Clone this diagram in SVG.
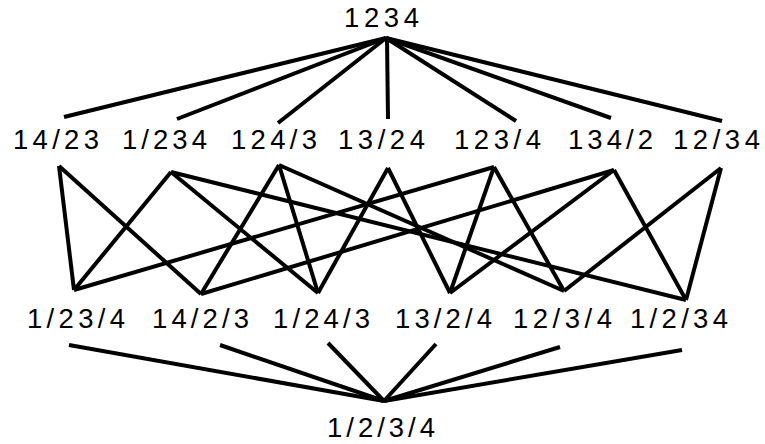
<svg xmlns="http://www.w3.org/2000/svg" width="765" height="444" viewBox="0 0 765 444">
  <style>
    .lbl { font-family: "Liberation Sans", Arial, sans-serif; font-size: 27.5px; fill: #000; }
    .edge { stroke: #000; stroke-width: 4; stroke-linecap: butt; fill: none; }
  </style>
  <rect width="765" height="444" fill="#fff"/>

  <!-- connectors: covering relations of the partition lattice -->
  <g id="connectors" class="edge">
    <!-- 1234 to two-block partitions -->
    <line x1="386" y1="38" x2="64" y2="117"/>
    <line x1="386" y1="38" x2="177" y2="119"/>
    <line x1="386" y1="38" x2="278" y2="123"/>
    <line x1="387" y1="38" x2="388" y2="119"/>
    <line x1="386" y1="38" x2="516" y2="121"/>
    <line x1="386" y1="38" x2="611" y2="118"/>
    <line x1="386" y1="38" x2="722" y2="121"/>
    <!-- two-block to three-block partitions -->
    <line x1="59" y1="166" x2="74" y2="290"/>
    <line x1="59" y1="166" x2="201" y2="294"/>
    <line x1="171" y1="172" x2="74" y2="290"/>
    <line x1="171" y1="172" x2="318" y2="293"/>
    <line x1="171" y1="172" x2="686" y2="300"/>
    <line x1="279" y1="165" x2="201" y2="294"/>
    <line x1="279" y1="165" x2="318" y2="293"/>
    <line x1="279" y1="165" x2="564" y2="291"/>
    <line x1="388" y1="168" x2="318" y2="293"/>
    <line x1="388" y1="168" x2="450" y2="293"/>
    <line x1="494" y1="167" x2="74" y2="290"/>
    <line x1="494" y1="167" x2="450" y2="293"/>
    <line x1="494" y1="167" x2="564" y2="291"/>
    <line x1="614" y1="170" x2="201" y2="294"/>
    <line x1="614" y1="170" x2="450" y2="293"/>
    <line x1="614" y1="170" x2="686" y2="300"/>
    <line x1="721" y1="168" x2="564" y2="291"/>
    <line x1="721" y1="168" x2="686" y2="300"/>
    <!-- three-block partitions to 1/2/3/4 -->
    <line x1="69" y1="345" x2="384" y2="401"/>
    <line x1="220" y1="345" x2="384" y2="401"/>
    <line x1="328" y1="343" x2="384" y2="401"/>
    <line x1="436" y1="344" x2="384" y2="401"/>
    <line x1="560" y1="347" x2="384" y2="401"/>
    <line x1="682" y1="350" x2="384" y2="401"/>
  </g>

  <!-- nodes -->
  <g id="n-1234"><text class="lbl" x="344" y="27" textLength="75" lengthAdjust="spacing">1234</text></g>

  <g id="n-14-23"><text class="lbl" x="13" y="149" textLength="86" lengthAdjust="spacing">14/23</text></g>
  <g id="n-1-234"><text class="lbl" x="122" y="149" textLength="85" lengthAdjust="spacing">1/234</text></g>
  <g id="n-124-3"><text class="lbl" x="231" y="149" textLength="86" lengthAdjust="spacing">124/3</text></g>
  <g id="n-13-24"><text class="lbl" x="338" y="149" textLength="87" lengthAdjust="spacing">13/24</text></g>
  <g id="n-123-4"><text class="lbl" x="454" y="149" textLength="87" lengthAdjust="spacing">123/4</text></g>
  <g id="n-134-2"><text class="lbl" x="568" y="149" textLength="85" lengthAdjust="spacing">134/2</text></g>
  <g id="n-12-34"><text class="lbl" x="673" y="149" textLength="87" lengthAdjust="spacing">12/34</text></g>

  <g id="n-1-23-4"><text class="lbl" x="27" y="328" textLength="98" lengthAdjust="spacing">1/23/4</text></g>
  <g id="n-14-2-3"><text class="lbl" x="152" y="328" textLength="97" lengthAdjust="spacing">14/2/3</text></g>
  <g id="n-1-24-3"><text class="lbl" x="273" y="328" textLength="97" lengthAdjust="spacing">1/24/3</text></g>
  <g id="n-13-2-4"><text class="lbl" x="395" y="328" textLength="97" lengthAdjust="spacing">13/2/4</text></g>
  <g id="n-12-3-4"><text class="lbl" x="513" y="328" textLength="99" lengthAdjust="spacing">12/3/4</text></g>
  <g id="n-1-2-34"><text class="lbl" x="630" y="328" textLength="98" lengthAdjust="spacing">1/2/34</text></g>

  <g id="n-1-2-3-4"><text class="lbl" x="327" y="437" textLength="108" lengthAdjust="spacing">1/2/3/4</text></g>
</svg>
